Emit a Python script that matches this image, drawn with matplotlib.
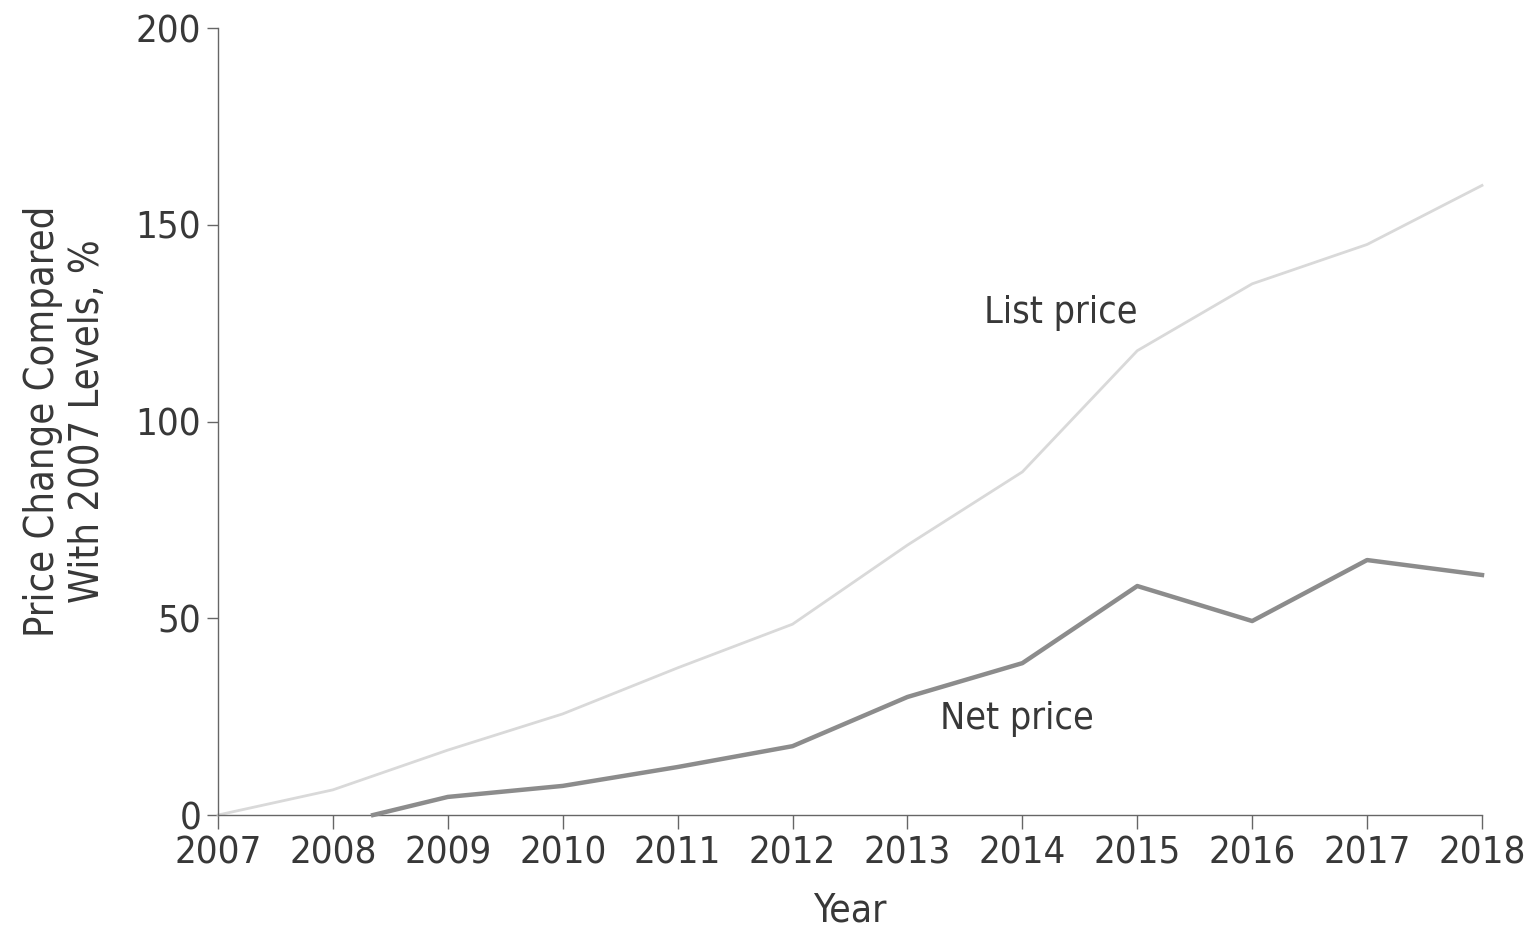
#!/usr/bin/env python3
"""List vs net price change compared with 2007 levels."""

import matplotlib

matplotlib.use("Agg")
import matplotlib.pyplot as plt
from matplotlib import font_manager

years = [2007, 2008, 2009, 2010, 2011, 2012, 2013, 2014, 2015, 2016, 2017, 2018]
list_price = [0, 6.4, 16.5, 25.7, 37.4, 48.5, 68.6, 87.2, 118, 135, 145, 160]

net_years = [2008.35, 2009, 2010, 2011, 2012, 2013, 2014, 2015, 2016, 2017, 2018]
net_price = [0, 4.6, 7.4, 12.2, 17.5, 30, 38.6, 58.2, 49.3, 64.8, 61]

y_ticks = [0, 50, 100, 150, 200]

# prefer a condensed face if one is installed
condensed = [f for f in font_manager.fontManager.ttflist
             if f.stretch in ("condensed", "semi-condensed") and f.weight in (400, "normal")]
if condensed:
    plt.rcParams["font.family"] = [condensed[0].name, "DejaVu Sans"]
    plt.rcParams["font.stretch"] = condensed[0].stretch
else:
    plt.rcParams["font.family"] = ["DejaVu Sans"]

text_color = "#383838"
fig = plt.figure(figsize=(15.34, 9.38), dpi=100)
ax = fig.add_axes([0.1421, 0.1311, 0.824, 0.839])

ax.plot(years, list_price, color="#d9d9d9", linewidth=2.0, clip_on=False, zorder=2)
ax.plot(net_years, net_price, color="#8c8c8c", linewidth=3.2, clip_on=False, zorder=3)

ax.text(2014.33, 127.5, "List price", fontsize=27, color=text_color, ha="center", va="center")
ax.text(2013.95, 24.5, "Net price", fontsize=27, color=text_color, ha="center", va="center")

ax.set_xlim(2007, 2018)
ax.set_ylim(0, 200)
ax.set_xticks(years)
ax.set_xticklabels([str(y) for y in years])
ax.set_yticks(y_ticks)

for side in ("top", "right"):
    ax.spines[side].set_visible(False)
for side in ("left", "bottom"):
    ax.spines[side].set_color("#666666")
    ax.spines[side].set_linewidth(1.0)

ax.tick_params(axis="x", length=10, width=1, color="#666666", labelsize=27.5,
               labelcolor=text_color, pad=5)
ax.tick_params(axis="y", length=8, width=1, color="#666666", labelsize=27.5,
               labelcolor=text_color, pad=4)

ax.set_xlabel("Year", fontsize=28, color=text_color, labelpad=14)
ax.set_ylabel("Price Change Compared\nWith 2007 Levels, %", fontsize=28.5,
              color=text_color, labelpad=20, linespacing=1.15)

fig.savefig("out.png", dpi=100)
